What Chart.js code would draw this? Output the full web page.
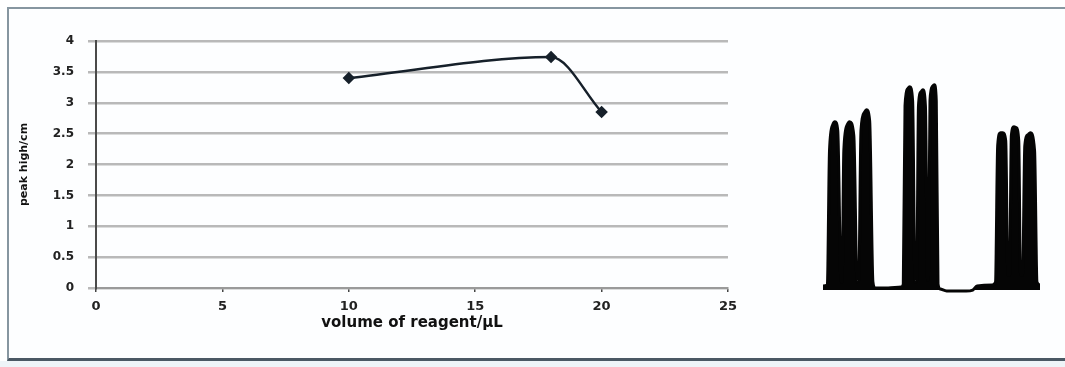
<!DOCTYPE html>
<html><head><meta charset="utf-8">
<script src="https://cdn.jsdelivr.net/npm/chart.js@4/dist/chart.umd.min.js"></script>
<style>
html,body{margin:0;padding:0;background:#fff;width:1065px;height:367px;overflow:hidden;}
#frame{position:absolute;left:7px;top:7px;width:1060px;height:349px;border-top:2px solid #8796a0;border-left:2px solid #8796a0;border-bottom:3px solid #4a5864;background:#fdfeff;}
#below{position:absolute;left:0;top:361px;width:1065px;height:6px;background:#eef4f8;}
#c1{position:absolute;left:0;top:0;}
#c2{position:absolute;left:823px;top:40px;}
</style></head>
<body>
<div id="frame"></div><div id="below"></div>
<canvas id="c1" width="760" height="367"></canvas>
<canvas id="c2" width="217" height="253"></canvas>
<script>
// main chart data
const volumes = [10, 18, 20];
const peakHeights = [3.4, 3.74, 2.85];
const xTicks = [0, 5, 10, 15, 20, 25];
const yTicks = [0, 0.5, 1, 1.5, 2, 2.5, 3, 3.5, 4];
const xTitle = 'volume of reagent/μL';
const yTitle = 'peak high/cm';

// inset chromatogram trace (retention position, signal)
const traceTime =   [0, 2, 3, 4.5, 5.5, 6.8, 8.3, 8.8, 9.6, 11.2, 12.2, 14.2, 15.7, 16.5, 17.5, 19, 20, 21.5, 23, 24, 30, 36,
                     37, 37.8, 39, 40, 41.3, 42.4, 43.2, 44, 45.2, 46, 47.2, 48.2, 48.6, 49.3, 50.3, 51.3, 52.2, 53, 54,
                     57, 66, 69, 71, 78, 79.5,
                     80.5, 81.8, 82.8, 84.2, 85.2, 86, 86.8, 88, 89, 90.2, 91, 92, 93, 94.5, 95.5, 97.5, 98.6, 100];
const traceSignal = [4, 5, 140, 166, 169, 160, 8, 8, 140, 166, 169, 155, 8, 10, 160, 178, 181, 170, 8, 2, 2, 3,
                     6, 185, 202, 204, 190, 8, 10, 185, 199, 201, 185, 10, 12, 190, 204, 206, 190, 6, 1,
                     -1, -1, 0, 4, 5, 8,
                     145, 158, 158, 150, 15, 15, 155, 164, 163, 150, 15, 15, 145, 156, 158, 140, 8, 5];

const font = {family: '"DejaVu Sans", Verdana, sans-serif', size: 12, weight: 'bold'};

new Chart(document.getElementById('c1'), {
  type: 'line',
  data: {
    datasets: [{
      data: volumes.map((v, i) => ({x: v, y: peakHeights[i]})),
      borderColor: '#16202a',
      backgroundColor: '#16202a',
      borderWidth: 2.5,
      pointStyle: 'rectRot',
      pointRadius: 4.5,
      cubicInterpolationMode: 'monotone',
      fill: false
    }]
  },
  options: {
    responsive: false,
    animation: false,
    events: [],
    layout: {padding: {left: 18, top: 41, right: 32, bottom: 34}},
    plugins: {legend: {display: false}, tooltip: {enabled: false}},
    scales: {
      x: {
        type: 'linear', min: 0, max: 25,
        afterBuildTicks: s => { s.ticks = xTicks.map(v => ({value: v})); },
        afterFit: s => { s.height = 45; },
        grid: {drawOnChartArea: false, drawTicks: true, tickLength: 4, color: '#444', lineWidth: 1.5},
        border: {display: true, color: '#9a9a9a', width: 2},
        ticks: {color: '#222', font: {family: font.family, size: 13, weight: 'bold'}, padding: 7, callback: v => String(v)},
        title: {display: true, text: xTitle, color: '#111', font: {family: font.family, size: 15, weight: 'bold'}, padding: {top: 0, bottom: 1}}
      },
      y: {
        min: 0, max: 4,
        afterBuildTicks: s => { s.ticks = yTicks.map(v => ({value: v})); },
        afterFit: s => { s.width = 78; },
        grid: {color: '#b9b9b9', lineWidth: 2.5, drawTicks: true, tickLength: 8},
        border: {display: true, color: '#4a4a4a', width: 2},
        ticks: {color: '#222', font: font, padding: 14, callback: v => String(v)},
        title: {display: true, text: yTitle, color: '#111', font: {family: font.family, size: 11, weight: 'bold'}, padding: 0}
      }
    }
  }
});

new Chart(document.getElementById('c2'), {
  type: 'line',
  data: {
    datasets: [{
      data: traceTime.map((t, i) => ({x: t, y: traceSignal[i]})),
      borderColor: '#050505',
      backgroundColor: '#050505',
      borderWidth: 3,
      pointRadius: 0,
      cubicInterpolationMode: 'monotone',
      fill: {value: 0}
    }]
  },
  options: {
    responsive: false,
    animation: false,
    events: [],
    layout: {padding: 0},
    plugins: {legend: {display: false}, tooltip: {enabled: false}},
    scales: {
      x: {type: 'linear', min: 0, max: 100, display: false},
      y: {min: -3, max: 251, display: false}
    }
  }
});
</script>
</body></html>
